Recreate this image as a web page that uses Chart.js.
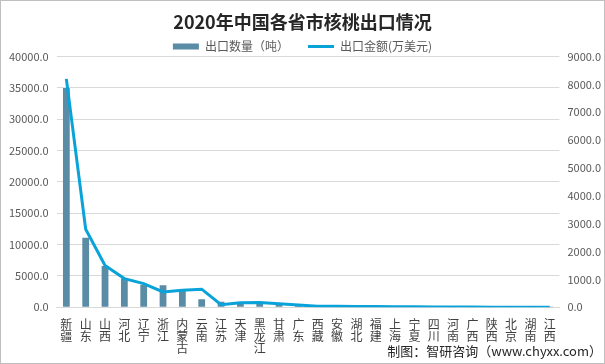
<!DOCTYPE html>
<html>
<head>
<meta charset="utf-8">
<script src="https://cdn.jsdelivr.net/npm/chart.js@4"></script>
<style>
  html, body { margin: 0; padding: 0; background: #fff; }
  .wrap { position: relative; width: 603px; height: 362px; border: 1px solid #bfbfbf; }
  .source {
    position: absolute; right: 2px; bottom: 3px;
    font: 13px 'Noto Sans CJK SC', sans-serif; color: #262626;
  }
</style>
</head>
<body>
<div class="wrap">
  <canvas id="myChart" width="603" height="362"></canvas>
  <div class="source">制图：智研咨询（www.chyxx.com）</div>
</div>
<script>
const provinces = ["新疆", "山东", "山西", "河北", "辽宁", "浙江", "内蒙古", "云南", "江苏", "天津", "黑龙江", "甘肃", "广东",
  "西藏", "安徽", "湖北", "福建", "上海", "宁夏", "四川", "河南", "广西", "陕西", "北京", "湖南", "江西"];
// 出口数量（吨）
const quantity = [35000, 11100, 6600, 4600, 3600, 3500, 2600, 1300, 900, 700, 600, 500, 200,
  120, 150, 100, 80, 60, 40, 30, 20, 15, 10, 8, 5, 3];
// 出口金额（万美元）
const amount = [8200, 2800, 1500, 1030, 850, 550, 610, 650, 90, 160, 170, 130, 80,
  40, 40, 30, 30, 20, 15, 10, 8, 6, 4, 3, 2, 1];
const leftTicks = [0, 5000, 10000, 15000, 20000, 25000, 30000, 35000, 40000];
const rightTicks = [0, 1000, 2000, 3000, 4000, 5000, 6000, 7000, 8000, 9000];

const fontFamily = "'Noto Sans CJK SC', 'Microsoft YaHei', sans-serif";
Chart.defaults.font.family = fontFamily;
Chart.defaults.color = "#595959";

const barColor = "#5b8ca5";
const lineColor = "#0aa3d9";

const data = {
  // stack each name vertically, one character per line
  labels: provinces.map((p) => p.split("")),
  datasets: [
    {
      type: "bar",
      label: "出口数量（吨）",
      data: quantity,
      backgroundColor: barColor,
      yAxisID: "y",
      barPercentage: 0.7,
      categoryPercentage: 0.5,
      order: 2,
    },
    {
      type: "line",
      label: "出口金额(万美元)",
      data: amount,
      borderColor: lineColor,
      backgroundColor: lineColor,
      borderWidth: 3,
      pointRadius: 0,
      tension: 0,
      yAxisID: "y1",
      order: 1,
    },
  ],
};

const config = {
  data,
  options: {
    responsive: false,
    animation: false,
    layout: { padding: { left: 0, right: 0, top: 8, bottom: 5 } },
    scales: {
      x: {
        grid: { display: false },
        border: { color: "#d9d9d9" },
        ticks: {
          maxRotation: 0,
          autoSkip: false,
          font: { size: 12, lineHeight: 1.02 },
          color: "#404040",
          padding: 3,
        },
      },
      y: {
        position: "left",
        min: 0,
        max: 40000,
        afterBuildTicks: (axis) => { axis.ticks = leftTicks.map((v) => ({ value: v })); },
        grid: { color: "#d9d9d9", drawTicks: false },
        border: { display: false },
        ticks: {
          font: { size: 11 },
          color: "#595959",
          padding: 8,
          callback: (v) => Number(v).toFixed(1),
        },
      },
      y1: {
        position: "right",
        min: 0,
        max: 9000,
        afterBuildTicks: (axis) => { axis.ticks = rightTicks.map((v) => ({ value: v })); },
        afterFit: (axis) => { axis.width -= 5; },
        grid: { display: false, drawTicks: false },
        border: { display: false },
        ticks: {
          font: { size: 11 },
          color: "#595959",
          padding: 8,
          callback: (v) => Number(v).toFixed(1),
        },
      },
    },
    plugins: {
      title: {
        display: true,
        text: "2020年中国各省市核桃出口情况",
        font: { size: 18, weight: "bold", family: fontFamily },
        color: "#262626",
        padding: { top: 2, bottom: 5 },
      },
      legend: {
        display: true,
        labels: {
          usePointStyle: true,
          pointStyleWidth: 26,
          boxHeight: 6,
          font: { size: 12 },
          color: "#595959",
          padding: 3,
          sort: (a, b) => a.datasetIndex - b.datasetIndex,
          generateLabels: (chart) => {
            const items = Chart.defaults.plugins.legend.labels.generateLabels(chart);
            return items.map((it) => {
              if (it.datasetIndex === 0) {
                return { ...it, text: it.text + "      ", pointStyle: "rect", lineWidth: 0, fillStyle: barColor };
              }
              return { ...it, pointStyle: "line", lineWidth: 3, strokeStyle: lineColor };
            });
          },
        },
      },
      tooltip: { enabled: false },
    },
  },
};

const myChart = new Chart(document.getElementById("myChart"), config);

// pull the plot area up under the legend, as in the original
const legendFit = myChart.legend.fit;
myChart.legend.fit = function () {
  legendFit.call(this);
  this.height -= 6;
};
myChart.update();
</script>
</body>
</html>
